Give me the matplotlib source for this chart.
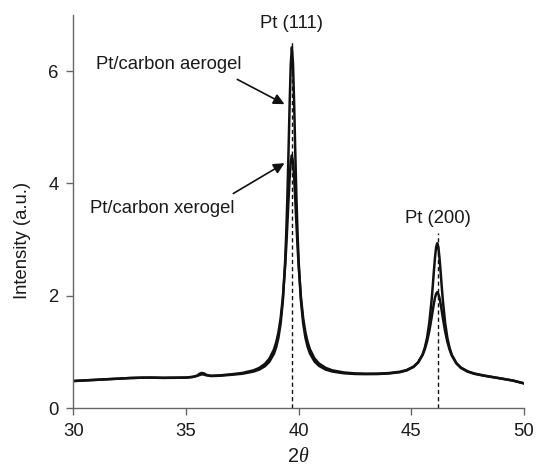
import matplotlib
matplotlib.use('Agg')
import matplotlib.pyplot as plt

# ---- data ----
two_theta = [30.0, 30.5, 31.0, 31.5, 32.0, 32.5, 33.0, 33.5, 34.0, 34.5, 35.0, 35.3, 35.5, 35.6,
             35.7, 35.8, 35.9, 36.1, 36.5, 37.0, 37.5, 38.0, 38.25, 38.5, 38.7, 38.9, 39.0, 39.1,
             39.2, 39.3, 39.4, 39.45, 39.5, 39.55, 39.6, 39.65, 39.7, 39.75, 39.8, 39.85, 39.9,
             39.95, 40.0, 40.1, 40.2, 40.3, 40.4, 40.5, 40.7, 40.9, 41.2, 41.5, 42.0, 42.5, 43.0,
             43.5, 44.0, 44.5, 44.8, 45.1, 45.3, 45.5, 45.6, 45.7, 45.8, 45.9, 45.95, 46.0, 46.05,
             46.1, 46.15, 46.2, 46.25, 46.3, 46.35, 46.4, 46.5, 46.6, 46.7, 46.8, 47.0, 47.2, 47.5,
             47.8, 48.2, 48.6, 49.0, 49.5, 50.0]

aerogel = [0.483, 0.494, 0.504, 0.515, 0.525, 0.536, 0.542, 0.543, 0.539, 0.541, 0.543, 0.555,
           0.581, 0.612, 0.628, 0.618, 0.595, 0.572, 0.578, 0.594, 0.613, 0.652, 0.687, 0.746,
           0.826, 0.967, 1.082, 1.249, 1.506, 1.916, 2.605, 3.113, 3.764, 4.555, 5.412, 6.127,
           6.420, 6.130, 5.420, 4.560, 3.770, 3.120, 2.610, 1.923, 1.512, 1.256, 1.090, 0.975,
           0.833, 0.754, 0.687, 0.652, 0.622, 0.609, 0.606, 0.608, 0.618, 0.641, 0.672, 0.734,
           0.811, 0.956, 1.079, 1.258, 1.528, 1.922, 2.168, 2.432, 2.680, 2.864, 2.935, 2.859,
           2.675, 2.427, 2.162, 1.916, 1.520, 1.249, 1.069, 0.945, 0.797, 0.716, 0.650, 0.611,
           0.580, 0.553, 0.526, 0.492, 0.441]

xerogel = [0.484, 0.495, 0.505, 0.516, 0.526, 0.537, 0.543, 0.545, 0.541, 0.543, 0.546, 0.558,
           0.575, 0.591, 0.602, 0.598, 0.585, 0.577, 0.584, 0.603, 0.627, 0.674, 0.717, 0.787,
           0.880, 1.041, 1.167, 1.343, 1.598, 1.973, 2.525, 2.881, 3.283, 3.707, 4.101, 4.388,
           4.500, 4.390, 4.110, 3.710, 3.290, 2.890, 2.530, 1.979, 1.604, 1.350, 1.175, 1.049,
           0.887, 0.796, 0.717, 0.673, 0.636, 0.619, 0.614, 0.615, 0.625, 0.649, 0.681, 0.742,
           0.816, 0.947, 1.050, 1.190, 1.377, 1.610, 1.738, 1.860, 1.965, 2.036, 2.065, 2.032,
           1.961, 1.856, 1.732, 1.604, 1.368, 1.180, 1.039, 0.935, 0.801, 0.723, 0.656, 0.617,
           0.583, 0.555, 0.528, 0.493, 0.442]

peak_labels = ['Pt (111)', 'Pt (200)']
peak_pos = [39.7, 46.17]
peak_line_top = [6.55, 3.11]
peak_label_y = [6.84, 3.37]

x_ticks = [30, 35, 40, 45, 50]
y_ticks = [0, 2, 4, 6]

plt.rcParams['font.family'] = ['Liberation Sans', 'DejaVu Sans']
plt.rcParams['mathtext.fontset'] = 'custom'
plt.rcParams['mathtext.it'] = 'Liberation Serif:italic'
plt.rcParams['mathtext.rm'] = 'Liberation Sans'

FS = 13.3
TXT = '#1a1a1a'
AX = '#666666'

fig = plt.figure(figsize=(5.36, 4.68), dpi=100)
ax = fig.add_axes([73.3 / 536, 1 - 408.2 / 468, 450.7 / 536, 393.4 / 468])

ax.plot(two_theta, aerogel, color='#111111', lw=1.8, solid_joinstyle='round')
ax.plot(two_theta, xerogel, color='#111111', lw=1.8, solid_joinstyle='round')

ax.vlines(peak_pos, 0, peak_line_top, colors='#111111', linestyles=(0, (3, 2.2)), lw=1.0)
for lab, px, py in zip(peak_labels, peak_pos, peak_label_y):
    ax.text(px, py, lab, ha='center', va='center', fontsize=FS, color=TXT)

arrow = dict(arrowstyle='-|>', color='#111111', lw=1.2, mutation_scale=16,
             shrinkA=0, shrinkB=0)
ax.annotate('', xy=(39.37, 5.41), xytext=(37.28, 5.85), arrowprops=arrow)
ax.annotate('', xy=(39.37, 4.36), xytext=(37.10, 3.82), arrowprops=arrow)
ax.text(31.01, 6.11, 'Pt/carbon aerogel', ha='left', va='center', fontsize=FS, color=TXT)
ax.text(30.74, 3.56, 'Pt/carbon xerogel', ha='left', va='center', fontsize=FS, color=TXT)

ax.set_xlim(30, 50)
ax.set_ylim(0, 7)
ax.set_xticks(x_ticks)
ax.set_yticks(y_ticks)
ax.set_xticklabels([str(v) for v in x_ticks])
ax.set_yticklabels([str(v) for v in y_ticks])
ax.tick_params(direction='out', length=5, width=1.0, color=AX, labelsize=FS,
               labelcolor=TXT, pad=5.5)
for s in ['top', 'right']:
    ax.spines[s].set_visible(False)
for s in ['left', 'bottom']:
    ax.spines[s].set_color(AX)
    ax.spines[s].set_linewidth(1.0)

ax.set_ylabel('Intensity (a.u.)', fontsize=FS, color=TXT, va='center')
ax.yaxis.set_label_coords(-0.1138, 0.4276)
ax.set_xlabel(r'2$\theta$', fontsize=FS + 1, color=TXT, va='center')
ax.xaxis.set_label_coords(0.5, -0.122)

fig.savefig('out.png', dpi=100)
